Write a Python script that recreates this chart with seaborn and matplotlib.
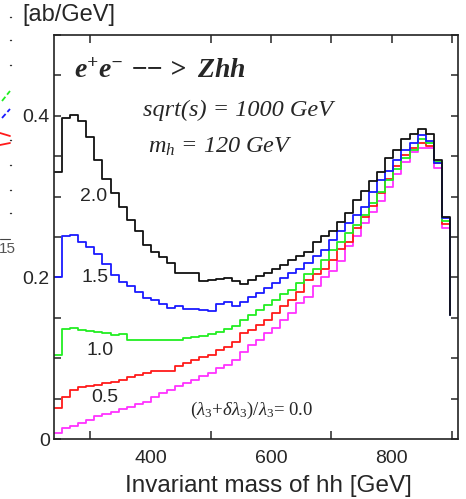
import numpy as np
import pandas as pd
import matplotlib
matplotlib.use("Agg")
import matplotlib.pyplot as plt
import seaborn as sns
from matplotlib.lines import Line2D
from matplotlib.ticker import MultipleLocator, FixedLocator

# hh invariant-mass histogram: 50 bins between 240 GeV and the kinematic limit
m_lo, m_hi, n_bins = 240.0, 910.0, 50
edges = np.linspace(m_lo, m_hi, n_bins + 1)[:n_bins]

# dsigma/dm_hh [ab/GeV] per bin; the last entry is where the step falls off at the edge
ratio_labels = ["0.0", "0.5", "1.0", "1.5", "2.0"]

xs_00 = [0.007, 0.013, 0.016, 0.020, 0.024, 0.028, 0.031, 0.034, 0.037, 0.040, 0.043, 0.046,
         0.052, 0.057, 0.061, 0.066, 0.069, 0.073, 0.078, 0.082, 0.088, 0.092, 0.098, 0.108,
         0.116, 0.123, 0.131, 0.137, 0.147, 0.156,
         0.168, 0.176, 0.189, 0.201, 0.208, 0.220, 0.239, 0.251, 0.267, 0.281, 0.295, 0.312,
         0.328, 0.343, 0.355, 0.360, 0.360, 0.336, 0.261, 0.154]
xs_05 = [0.038, 0.052, 0.061, 0.064, 0.066, 0.067, 0.069, 0.070, 0.073, 0.077, 0.079, 0.082,
         0.084, 0.084, 0.084, 0.090, 0.094, 0.098, 0.101, 0.104, 0.110, 0.114, 0.120, 0.131,
         0.135, 0.141, 0.147, 0.156, 0.164, 0.172,
         0.182, 0.197, 0.204, 0.210, 0.222, 0.235, 0.244, 0.261, 0.275, 0.288, 0.304, 0.322,
         0.338, 0.352, 0.360, 0.366, 0.363, 0.341, 0.266, 0.154]
xs_10 = [0.104, 0.136, 0.137, 0.135, 0.134, 0.132, 0.131, 0.129, 0.130, 0.122, 0.122, 0.122,
         0.123, 0.123, 0.123, 0.123, 0.125, 0.126, 0.128, 0.130, 0.133, 0.136, 0.140, 0.147,
         0.154, 0.160, 0.166, 0.172, 0.180, 0.185,
         0.193, 0.204, 0.211, 0.222, 0.234, 0.244, 0.255, 0.265, 0.277, 0.292, 0.306, 0.320,
         0.334, 0.348, 0.358, 0.371, 0.366, 0.343, 0.270, 0.154]
xs_15 = [0.201, 0.251, 0.253, 0.244, 0.238, 0.229, 0.217, 0.203, 0.194, 0.189, 0.182, 0.175,
         0.172, 0.167, 0.162, 0.164, 0.161, 0.161, 0.160, 0.158, 0.167, 0.169, 0.164, 0.170,
         0.176, 0.181, 0.187, 0.193, 0.199, 0.205,
         0.211, 0.218, 0.226, 0.234, 0.246, 0.258, 0.267, 0.277, 0.287, 0.306, 0.320, 0.332,
         0.345, 0.358, 0.366, 0.376, 0.369, 0.342, 0.273, 0.154]
xs_20 = [0.331, 0.397, 0.401, 0.393, 0.374, 0.345, 0.322, 0.305, 0.287, 0.271, 0.258, 0.240,
         0.231, 0.225, 0.218, 0.205, 0.206, 0.205, 0.196, 0.197, 0.198, 0.199, 0.195, 0.192,
         0.197, 0.202, 0.206, 0.211, 0.215, 0.222, 0.226,
         0.232, 0.244, 0.251, 0.258, 0.268, 0.280, 0.296, 0.307, 0.319, 0.331, 0.348, 0.358,
         0.371, 0.377, 0.384, 0.377, 0.345, 0.275, 0.154]

series = [xs_00, xs_05, xs_10, xs_15, xs_20]
colors = ["#ff33ff", "#ff1a1a", "#22ee22", "#1a1aff", "#111111"]

df = pd.concat(
    [pd.DataFrame({"m_hh": edges, "dsigma": vals, "ratio": lab})
     for lab, vals in zip(ratio_labels, series)],
    ignore_index=True,
)

sns.set_theme(style="ticks")
plt.rcParams["font.family"] = ["Liberation Sans", "DejaVu Sans"]
plt.rcParams["mathtext.fontset"] = "custom"
plt.rcParams["mathtext.rm"] = "Liberation Serif"
plt.rcParams["mathtext.it"] = "Liberation Serif:italic"
plt.rcParams["mathtext.bf"] = "Liberation Serif:bold:italic"

W, H = 466, 499
fig = plt.figure(figsize=(W / 100, H / 100), dpi=100)
ax = fig.add_axes([54 / W, 60 / H, 404 / W, 404 / H])

sns.lineplot(data=df, x="m_hh", y="dsigma", hue="ratio", hue_order=ratio_labels,
             palette=dict(zip(ratio_labels, colors)), estimator=None,
             drawstyle="steps-post", linewidth=1.3, legend=False, ax=ax)

ax.set_xlim(m_lo, m_hi)
ax.set_ylim(0, 0.5)

# axis frame and ticks
for s in ax.spines.values():
    s.set_linewidth(1.2)
    s.set_color("#222222")
    s.set_visible(True)

ax.xaxis.set_major_locator(FixedLocator([400, 600, 800]))
ax.xaxis.set_minor_locator(FixedLocator([300, 500, 700, 900]))
ax.tick_params(axis="x", which="major", direction="in", length=0, labelsize=14,
               pad=8, bottom=True, top=False)
ax.tick_params(axis="x", which="minor", direction="in", length=6, width=1.1,
               bottom=True, top=False)

top = ax.secondary_xaxis("top")
top.set_xticks([300, 500, 600, 700, 800, 900])
top.tick_params(axis="x", direction="in", length=6, width=1.1, labeltop=False)
top.spines["top"].set_visible(False)

ax.yaxis.set_major_locator(FixedLocator([0, 0.2, 0.4]))
ax.yaxis.set_minor_locator(MultipleLocator(0.05))
ax.set_yticklabels(["0", "0.2", "0.4"])
ax.tick_params(axis="y", which="both", direction="in", length=5, width=1.1,
               left=True, right=True, labelsize=14, pad=3)

ax.set_xlabel("Invariant mass of hh [GeV]", fontsize=17.5, labelpad=5)
ax.xaxis.set_label_coords(0.532, -0.088)
ax.set_ylabel("")
fig.text(22 / W, 1 - 15 / H, "[ab/GeV]", fontsize=17, ha="left", va="center")

# curve labels: (lambda3 + delta lambda3) / lambda3
label_pos = {"2.0": (305, 0.300), "1.5": (308, 0.200), "1.0": (317, 0.110), "0.5": (325, 0.051)}
for lab, (lx, ly) in label_pos.items():
    ax.text(lx, ly, lab, fontsize=14, ha="center", va="center")
ax.text(466, 0.035, r"$(\lambda_3\!+\!\delta\lambda_3)/\lambda_3$= " + ratio_labels[0],
        fontsize=13.5, ha="left", va="center", family="Liberation Serif")

# process and parameters
ax.text(273, 0.455, r"$\mathbf{e^{+}e^{-}}$ $\mathbf{-\!\!->}$ $\mathbf{Zhh}$", fontsize=20,
        ha="left", va="center")
ax.text(388, 0.407, "sqrt(s) = 1000 GeV", fontsize=17.5, style="italic",
        family="Liberation Serif", ha="left", va="center")
ax.text(396, 0.362, r"$m_h$ = 120 GeV", fontsize=17.5, style="italic",
        family="Liberation Serif", ha="left", va="center")

# edge of the neighbouring panel on the left
def px_line(x0, y0, x1, y1, **kw):
    fig.add_artist(Line2D([x0 / W, x1 / W], [1 - y0 / H, 1 - y1 / H],
                          transform=fig.transFigure, **kw))

for yy in [17, 40, 65, 140, 165, 190, 213]:
    px_line(9.5, yy, 11, yy, color="#333333", linewidth=1.0)
px_line(2, 101, 10, 91, color="#22ee22", linewidth=1.3, linestyle=(0, (3, 1.5)))
px_line(2, 118, 10, 109, color="#1a1aff", linewidth=1.3, linestyle=(0, (3, 1.5)))
px_line(0, 133, 10, 136, color="#ff1a1a", linewidth=1.3)
px_line(0, 145, 10, 143, color="#ff1a1a", linewidth=1.3)
px_line(0, 239, 10, 239, color="#444444", linewidth=0.8)
fig.text(-1 / W, 1 - 249 / H, "15", fontsize=11, color="#555555", ha="left", va="center")

fig.savefig("out.png", dpi=100)
